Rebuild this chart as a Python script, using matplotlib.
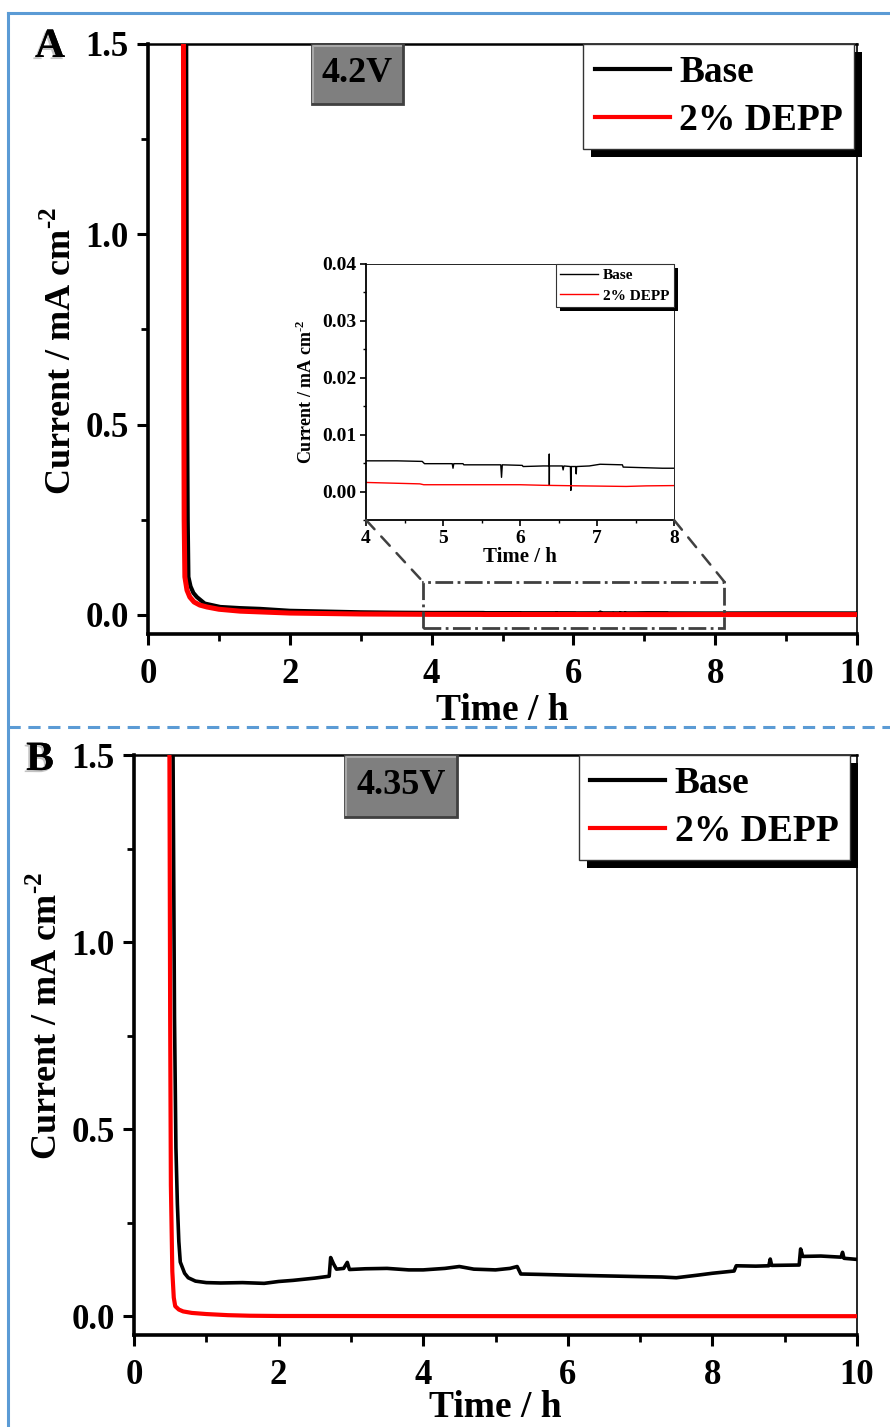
import matplotlib
matplotlib.use('Agg')
import matplotlib.pyplot as plt
import matplotlib.patheffects as pe
from matplotlib.patches import Rectangle, ConnectionPatch
from matplotlib.lines import Line2D
from matplotlib.ticker import MultipleLocator

# ---- data (time / h, current / mA cm-2) ----
# panel A, 4.2 V
a_base = [(0.53, 3.0), (0.54, 1.40), (0.55, 0.60), (0.56, 0.25), (0.57, 0.10),
          (0.60, 0.075), (0.64, 0.058), (0.69, 0.047), (0.80, 0.030), (1.02, 0.021),
          (1.30, 0.018), (1.58, 0.016), (2.0, 0.011), (2.5, 0.009), (3.0, 0.007),
          (3.5, 0.006), (4.0, 0.0054), (4.40, 0.0054), (4.73, 0.0053), (4.76, 0.0049),
          (5.12, 0.0049), (5.13, 0.0041), (5.14, 0.0049), (5.26, 0.0049), (5.27, 0.0047),
          (5.75, 0.0047), (5.76, 0.0025), (5.77, 0.0047), (6.03, 0.0046), (6.04, 0.0044),
          (6.30, 0.0045), (6.379, 0.0045), (6.38, 0.0066), (6.381, 0.0011), (6.382, 0.0045),
          (6.55, 0.0045), (6.56, 0.0038), (6.57, 0.0045), (6.655, 0.0044), (6.66, 0.0002),
          (6.665, 0.0044), (6.725, 0.0044), (6.73, 0.0031), (6.735, 0.0044), (6.90, 0.0045),
          (7.04, 0.0048), (7.33, 0.0047), (7.34, 0.0043), (7.85, 0.0041), (8.0, 0.0041),
          (8.5, 0.0042), (9.0, 0.0043), (9.5, 0.0042), (10.0, 0.0041)]
a_depp = [(0.49, 3.0), (0.50, 1.50), (0.505, 0.60), (0.51, 0.25), (0.52, 0.10),
          (0.55, 0.065), (0.59, 0.047), (0.65, 0.034), (0.73, 0.026), (0.83, 0.021),
          (1.0, 0.015), (1.3, 0.010), (1.58, 0.008), (2.0, 0.005), (3.0, 0.0025),
          (4.0, 0.0016), (4.7, 0.00135), (4.75, 0.0012), (6.0, 0.0012), (6.3, 0.0011),
          (6.78, 0.0010), (7.38, 0.0009), (7.64, 0.0010), (8.0, 0.00105), (9.0, 0.0010),
          (10.0, 0.0010)]
# panel B, 4.35 V
b_base = [(0.52, 3.0), (0.54, 1.50), (0.56, 0.80), (0.58, 0.45), (0.60, 0.30),
          (0.62, 0.20), (0.64, 0.145), (0.70, 0.115), (0.75, 0.103), (0.85, 0.094),
          (1.0, 0.090), (1.2, 0.089), (1.5, 0.090), (1.8, 0.088), (2.0, 0.093),
          (2.2, 0.096), (2.5, 0.102), (2.7, 0.107), (2.72, 0.157), (2.76, 0.140),
          (2.8, 0.126), (2.9, 0.128), (2.95, 0.144), (2.98, 0.125), (3.2, 0.127),
          (3.5, 0.128), (3.8, 0.124), (4.0, 0.124), (4.3, 0.128), (4.5, 0.133),
          (4.7, 0.126), (5.0, 0.124), (5.2, 0.128), (5.3, 0.133), (5.35, 0.113),
          (5.6, 0.112), (6.0, 0.110), (6.5, 0.108), (7.0, 0.106), (7.3, 0.105),
          (7.5, 0.103), (7.8, 0.110), (8.0, 0.115), (8.3, 0.121), (8.33, 0.135),
          (8.6, 0.134), (8.78, 0.135), (8.8, 0.153), (8.82, 0.136), (9.2, 0.137),
          (9.22, 0.180), (9.25, 0.160), (9.5, 0.161), (9.78, 0.158), (9.8, 0.171),
          (9.82, 0.155), (10.0, 0.152)]
b_depp = [(0.47, 3.0), (0.49, 1.50), (0.50, 0.80), (0.51, 0.35), (0.53, 0.12),
          (0.55, 0.05), (0.57, 0.027), (0.62, 0.018), (0.68, 0.013), (0.8, 0.009),
          (1.0, 0.006), (1.3, 0.003), (1.6, 0.0015), (2.0, 0.0008), (4.0, 0.0005),
          (6.0, 0.0003), (10.0, 0.0003)]

series_labels = ['Base', '2% DEPP']
voltages = ['4.2V', '4.35V']
panel_tags = ['A', 'B']
zoom_window = (4, 8)

plt.rcParams['font.family'] = ['Liberation Serif', 'DejaVu Serif']
plt.rcParams['font.weight'] = 'bold'
plt.rcParams['axes.labelweight'] = 'bold'
plt.rcParams['mathtext.fontset'] = 'custom'
plt.rcParams['mathtext.rm'] = 'Liberation Serif:bold'
plt.rcParams['mathtext.bf'] = 'Liberation Serif:bold'

ylab = r'Current / mA cm$^{\text{-2}}$'
BLUE = '#5b9bd5'


def style_main(ax, xpad):
    ax.set_xlim(0, 10)
    ax.set_ylim(-0.05, 1.5)
    ax.xaxis.set_major_locator(MultipleLocator(2))
    ax.xaxis.set_minor_locator(MultipleLocator(1))
    ax.yaxis.set_major_locator(MultipleLocator(0.5))
    ax.yaxis.set_minor_locator(MultipleLocator(0.25))
    ax.yaxis.set_major_formatter(plt.FormatStrFormatter('%.1f'))
    ax.tick_params(which='major', direction='out', length=8, width=2.2,
                   labelsize=25, pad=6)
    ax.tick_params(axis='x', which='major', pad=9)
    ax.tick_params(which='minor', direction='out', length=5, width=2.0)
    ax.tick_params(top=False, right=False)
    for s in ['left', 'bottom']:
        ax.spines[s].set_linewidth(2.6)
    ax.spines['top'].set_linewidth(1.8)
    ax.spines['right'].set_linewidth(1.2)
    ax.set_xlabel('Time / h', fontsize=27, labelpad=xpad)
    ax.set_ylabel(ylab, fontsize=26)


def vbox(ax, x0, x1, y0, y1, txt):
    ax.add_patch(Rectangle((x0, y0), x1 - x0, y1 - y0, transform=ax.transAxes,
                           fc='#7f7f7f', ec='#404040', lw=2.0, zorder=6))
    ax.add_line(Line2D([x0 + 0.002, x0 + 0.002, x1 - 0.003], [y0 + 0.004, y1 - 0.003, y1 - 0.003],
                       transform=ax.transAxes, color='#a8a8a8', lw=1.5, zorder=7))
    ax.text((x0 + x1) / 2, (y0 + y1) / 2, txt, transform=ax.transAxes, fontsize=26,
            ha='center', va='center', zorder=8)


def make_legend(ax, anchor, fontsize, hlen, lw):
    leg = ax.legend(loc='upper right', bbox_to_anchor=anchor, fontsize=fontsize,
                    handlelength=hlen, handletextpad=0.25, borderpad=0.3,
                    labelspacing=0.33, borderaxespad=0, fancybox=False,
                    framealpha=1, edgecolor='#333333')
    leg.get_frame().set_linewidth(1.0)
    for h in leg.legend_handles:
        h.set_linewidth(lw)
    leg.set_zorder(10)
    return leg


fig = plt.figure(figsize=(8.9, 14.27), dpi=100)
axA = fig.add_axes([148 / 890, 793 / 1427, 709 / 890, 590 / 1427])
axB = fig.add_axes([134 / 890, 92 / 1427, 723 / 890, 580 / 1427])

for ax, base, depp, lwb, lwr, xpad in [(axA, a_base, a_depp, 3.0, 3.6, 2),
                                       (axB, b_base, b_depp, 2.6, 3.0, -1)]:
    bt, bi = zip(*base)
    dt, di = zip(*depp)
    ax.plot(bt, bi, color='black', lw=lwb, label=series_labels[0], zorder=3)
    ax.plot(dt, di, color='red', lw=lwr, label=series_labels[1], zorder=4)
    style_main(ax, xpad)

axA.yaxis.set_label_coords(-0.098, 0.48)
axB.yaxis.set_label_coords(-0.096, 0.55)

vbox(axA, (312 - 148) / 709, (403 - 148) / 709, (634 - 104) / 590, 1.0, voltages[0])
vbox(axB, (345 - 134) / 723, (457 - 134) / 723, (1335 - 817) / 580, 1.0, voltages[1])

legends = [(axA, make_legend(axA, (0.996, 1.0), 27, 2.0, 3.0), 8),
           (axB, make_legend(axB, (0.990, 1.0), 27, 2.0, 3.0), 8)]

# panel tags
for tag, x, y in [(panel_tags[0], 50, 47), (panel_tags[1], 40, 760)]:
    fig.text(x / 890, 1 - y / 1427, tag, fontsize=30, ha='center', va='center',
             path_effects=[pe.withSimplePatchShadow(offset=(-1.5, -1.5), shadow_rgbFace='#888888', alpha=0.5),
                           pe.Normal()])

# inset
axI = fig.add_axes([366 / 890, 907 / 1427, 308 / 890, 256 / 1427])
bt, bi = zip(*a_base)
dt, di = zip(*a_depp)
axI.plot(bt, bi, color='black', lw=1.0, label=series_labels[0])
axI.plot(dt, di, color='red', lw=1.0, label=series_labels[1])
axI.set_xlim(*zoom_window)
axI.set_ylim(-0.005, 0.04)
axI.xaxis.set_major_locator(MultipleLocator(1))
axI.xaxis.set_minor_locator(MultipleLocator(0.5))
axI.yaxis.set_major_locator(MultipleLocator(0.01))
axI.yaxis.set_minor_locator(MultipleLocator(0.005))
axI.yaxis.set_major_formatter(plt.FormatStrFormatter('%.2f'))
axI.tick_params(which='major', direction='out', length=4, width=1.2, labelsize=14, pad=3)
axI.tick_params(which='minor', direction='out', length=2.5, width=1.0)
axI.spines['left'].set_linewidth(1.3)
axI.spines['bottom'].set_linewidth(1.3)
axI.spines['top'].set_linewidth(0.6)
axI.spines['right'].set_linewidth(0.6)
axI.set_xlabel('Time / h', fontsize=15, labelpad=0)
axI.set_ylabel(ylab, fontsize=13, labelpad=4)
legI = axI.legend(loc='upper right', bbox_to_anchor=(1.0, 1.0), fontsize=11,
                  handlelength=2.5, handletextpad=0.3, borderpad=0.3, labelspacing=0.45,
                  borderaxespad=0, fancybox=False, framealpha=1, edgecolor='#333333')
legI.get_frame().set_linewidth(0.8)
legI.set_zorder(10)
legends.append((axI, legI, 4))

# zoom rectangle + connectors on panel A
x0, x1 = 3.88, 8.13
y0, y1 = -0.034, 0.087
axA.add_patch(Rectangle((x0, y0), x1 - x0, y1 - y0, fill=False, ec='#404040',
                        lw=2.0, ls='-.', zorder=5))
for xa, xb in [(0, x0), (1, x1)]:
    con = ConnectionPatch(xyA=(xa, 0), coordsA=axI.transAxes, xyB=(xb, y1), coordsB=axA.transData,
                          color='#404040', lw=1.8, ls=(0, (5, 4)))
    fig.add_artist(con)

# legend shadows (solid black, offset down-right), drawn inside each axes below its legend
fig.canvas.draw()
inv = fig.transFigure.inverted()
for ax, leg, off in legends:
    bb = leg.get_frame().get_window_extent()
    p0 = inv.transform((bb.x0 + off, bb.y0 - off))
    p1 = inv.transform((bb.x1 + off, bb.y1 - off))
    ax.add_patch(Rectangle(p0, p1[0] - p0[0], p1[1] - p0[1], transform=fig.transFigure,
                           fc='black', ec='none', zorder=9, clip_on=False))

# blue page frame
fig.add_artist(Line2D([8 / 890, 1.0], [1 - 13 / 1427] * 2, color=BLUE, lw=2.2))
fig.add_artist(Line2D([8 / 890] * 2, [0, 1 - 13 / 1427], color=BLUE, lw=2.2))
fig.add_artist(Line2D([8 / 890, 1.0], [1 - 727 / 1427] * 2, color=BLUE, lw=2.2, ls=(0, (4, 2.5))))

fig.savefig('out.png', dpi=100)
